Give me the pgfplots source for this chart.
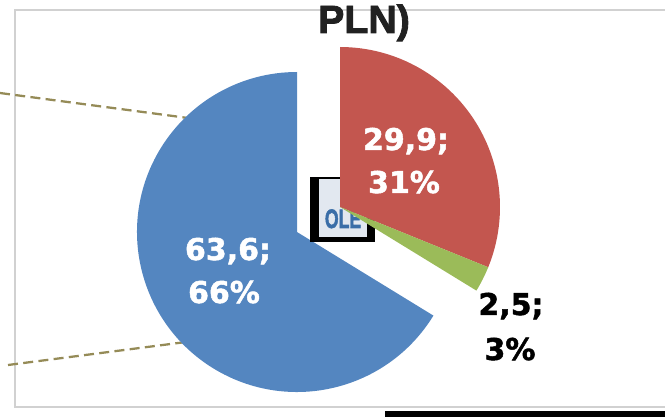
\documentclass[border=0pt]{standalone}
\usepackage{pgfplots}
\pgfplotsset{compat=1.18}
\usepackage{fontspec}
\setmainfont{Liberation Sans}
\newfontfamily\labfont{DejaVu Sans}[BoldFeatures={FakeBold=1.6}]
\newfontfamily\titlefont{Liberation Sans}[BoldFeatures={FakeBold=2.2}]
\definecolor{pieblue}{HTML}{5486C0}
\definecolor{piered}{HTML}{C3564F}
\definecolor{piegreen}{HTML}{9BBB59}
\definecolor{dashol}{HTML}{958B57}
\definecolor{olefill}{HTML}{E2E8F0}
\definecolor{oletext}{HTML}{3A6EA8}
% data (mln PLN)
\def\valRed{29.9}
\def\valGreen{2.5}
\def\valBlue{63.6}
\pgfmathsetmacro\tot{\valRed+\valGreen+\valBlue}
\pgfmathsetmacro\aA{90-360*\valRed/\tot}
\pgfmathsetmacro\aB{\aA-360*\valGreen/\tot}
\begin{document}
\begin{tikzpicture}
\path[use as bounding box, clip] (0,0) rectangle (498.75pt,312.75pt);
\begin{axis}[
  at={(0,0)}, anchor=south west,
  scale only axis, width=498.75pt, height=312.75pt,
  xmin=0, xmax=665, ymin=0, ymax=417, y dir=reverse,
  enlargelimits=false, axis lines=none, clip=false,
]
% plot-area border
\draw[black!18, line width=1pt] (axis cs:680,10) -- (axis cs:15,10) -- (axis cs:15,407) -- (axis cs:680,407);
% connector lines (pie of pie)
\draw[dashol, line width=1.7pt, dash pattern=on 7.5pt off 4pt] (axis cs:0,93) -- (axis cs:188,118);
\draw[dashol, line width=1.7pt, dash pattern=on 7.5pt off 4pt] (axis cs:8,365) -- (axis cs:186,342);
% blue slice
\fill[pieblue] (axis cs:297,232) -- ++(\aB:120pt) arc[start angle=\aB, end angle=-270, radius=120pt] -- cycle;
% OLE box
\fill[black] (axis cs:310,177) rectangle (axis cs:375,242);
\fill[olefill] (axis cs:319,179) rectangle (axis cs:367,237);
\node[text=oletext, font=\titlefont\bfseries\fontsize{20pt}{22pt}\selectfont, anchor=base, inner sep=0pt] at (axis cs:343,228) {\scalebox{0.66}[1]{OLE}};
% exploded slices
\fill[piered] (axis cs:340,207) -- ++(90:120pt) arc[start angle=90, end angle=\aA, radius=120pt] -- cycle;
\fill[piegreen] (axis cs:340,207) -- ++(\aA:120pt) arc[start angle=\aA, end angle=\aB, radius=120pt] -- cycle;
% data labels
\tikzset{lab/.style={anchor=base, font=\labfont\bfseries\fontsize{22.5pt}{27pt}\selectfont}}
\node[lab, text=white] at (axis cs:406,150) {29,9;};
\node[lab, text=white] at (axis cs:404,193) {31\%};
\node[lab, text=white] at (axis cs:228,260) {63,6;};
\node[lab, text=white] at (axis cs:224,303) {66\%};
\node[lab, text=black] at (axis cs:511,315) {2,5;};
\node[lab, text=black] at (axis cs:510,360) {3\%};
% title (cut)
\node[anchor=base, text=black!87, font=\titlefont\bfseries\fontsize{29.5pt}{34pt}\selectfont] at (axis cs:364,33) {PLN)};
% black bar at bottom
\fill[black] (axis cs:385,411) rectangle (axis cs:680,425);
\end{axis}
\end{tikzpicture}
\end{document}
